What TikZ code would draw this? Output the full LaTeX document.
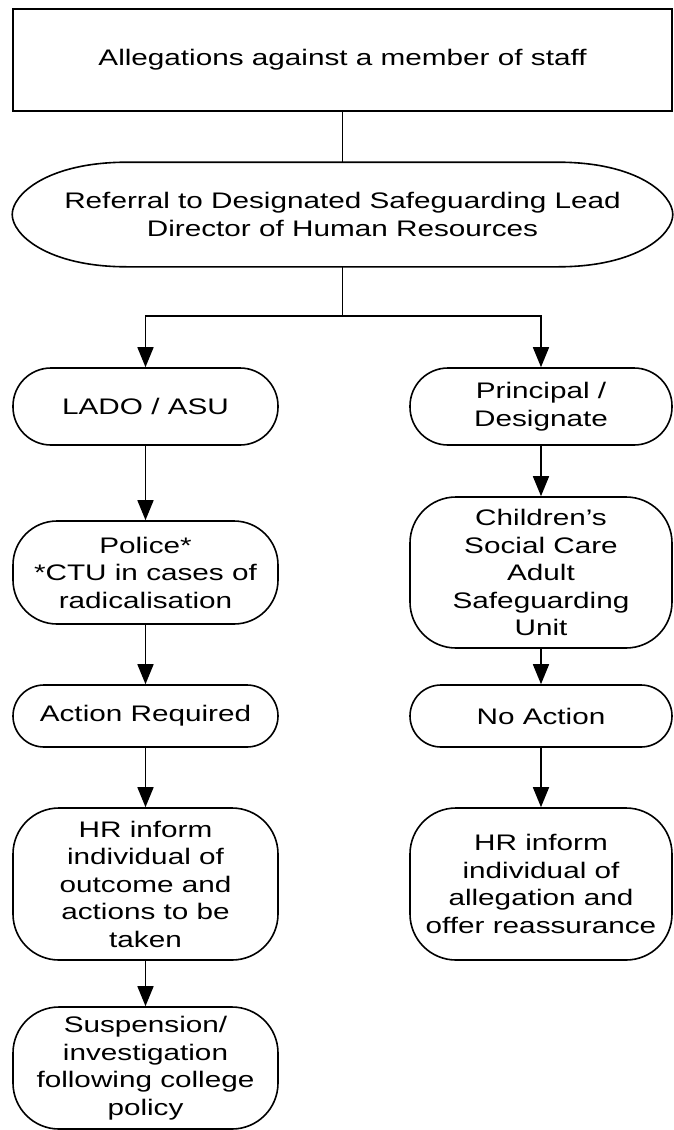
\documentclass[tikz,border=0pt]{standalone}
\usepackage{fontspec}
\setmainfont[FakeStretch=1.32]{Liberation Sans}
\usepackage{tikz}
\usetikzlibrary{arrows.meta,positioning,shapes.geometric,calc}
\tikzset{
  arr/.style={-{Triangle[width=16pt,length=20pt]}},
  term/.style={draw,rounded corners=46pt,align=center,minimum width=265pt,inner sep=0pt},
}
\begin{document}
\begin{tikzpicture}[x=1pt,y=1pt,line width=1.6pt,font={\fontsize{22.5}{27.5}\selectfont}]
  \useasboundingbox (0,0) rectangle (673,-1130);
  \node[draw,minimum width=659pt,minimum height=102pt,inner sep=0pt] (top) at (342.5,-60) {Allegations against a member of staff};
  \node[minimum width=659pt,minimum height=103pt,inner sep=0pt,align=center] (ref) at (342.5,-214.5) {Referral to Designated Safeguarding Lead\\Director of Human Resources};
  % flattened oval round the referral text
  \draw (ref.west) .. controls +(0,20) and +(-80,0) .. ($(ref.north west)+(115,0)$)
    -- ($(ref.north east)+(-115,0)$) .. controls +(80,0) and +(0,20) .. (ref.east)
    .. controls +(0,-20) and +(80,0) .. ($(ref.south east)+(-115,0)$)
    -- ($(ref.south west)+(115,0)$) .. controls +(-80,0) and +(0,-20) .. (ref.west) -- cycle;
  \draw (top)--(ref);
  \coordinate (split) at (342.5,-316);
  % left branch
  \node[term,rounded corners=38pt,minimum height=77pt] (lado) at (145.5,-406.5) {LADO / ASU};
  \node[term,rounded corners=44pt,minimum height=103pt] (police) at (145.5,-572.5) {Police*\\*CTU in cases of\\radicalisation};
  \node[term,rounded corners=31pt,minimum height=62pt] (actreq) at (145.5,-716) {Action Required};
  \node[term,minimum height=152pt] (hrleft) at (145.5,-884) {HR inform\\individual of\\outcome and\\actions to be\\taken};
  \node[term,minimum height=122pt] (susp) at (145.5,-1068) {Suspension/\\investigation\\following college\\policy};
  % right branch
  \node[term,rounded corners=38pt,minimum width=262pt,minimum height=77pt] (princ) at (541,-406.5) {Principal /\\Designate};
  \node[term,minimum width=262pt,minimum height=151pt] (csc) at (541,-572.5) {Children's\\Social Care\\Adult\\Safeguarding\\Unit};
  \node[term,rounded corners=31pt,minimum width=262pt,minimum height=62pt] (noact) at (541,-716) {No Action};
  \node[term,minimum width=262pt,minimum height=152pt] (hrright) at (541,-884) {HR inform\\individual of\\allegation and\\offer reassurance};
  \draw (ref)--(split);
  \draw[arr] (split) -| (lado);
  \draw[arr] (split) -| (princ);
  \draw[arr] (lado)--(police);
  \draw[arr] (police)--(actreq);
  \draw[arr] (actreq)--(hrleft);
  \draw[arr] (hrleft)--(susp);
  \draw[arr] (princ)--(csc);
  \draw[arr] (csc)--(noact);
  \draw[arr] (noact)--(hrright);
\end{tikzpicture}
\end{document}
